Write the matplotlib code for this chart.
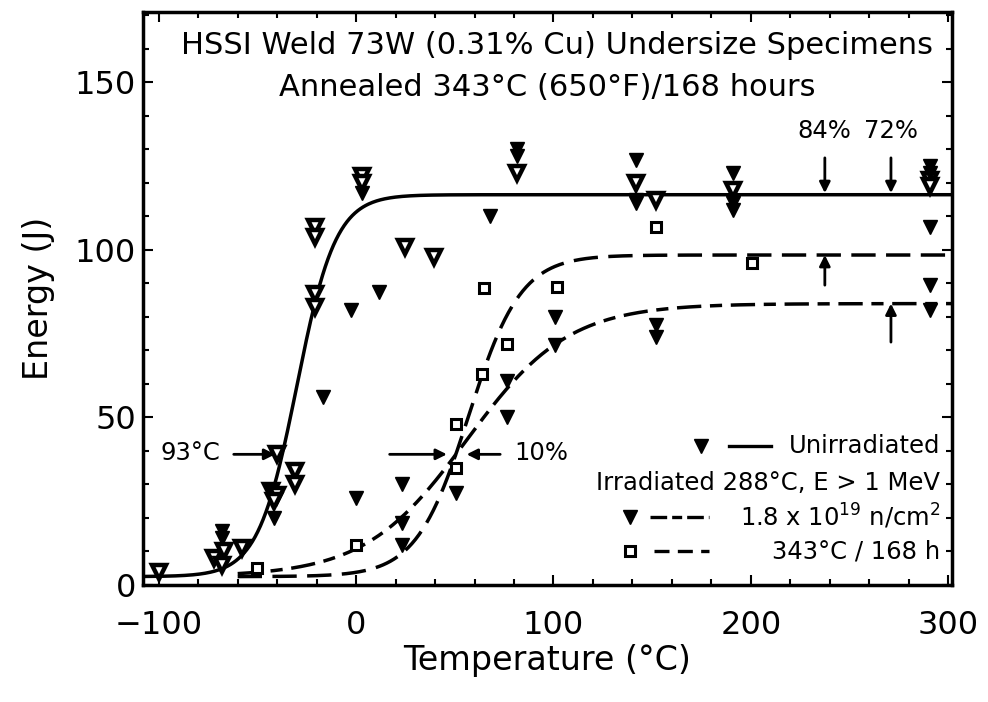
import numpy as np
import matplotlib
matplotlib.use("Agg")
import matplotlib.pyplot as plt

# ---------------- data ----------------
# Unirradiated (open triangles)
unirr_T = [-100, -72, -67, -68, -58, -43, -40, -41.5, -31, -31, -21, -21, -21, -21,
           3, 3, 25, 39.5, 81.5, 142, 152, 191, 291, 291, -40]
unirr_E = [4, 8, 10, 6, 11, 28, 27, 25, 34, 30, 107, 104, 87, 83,
           122, 120, 101, 98, 123, 120, 115, 118, 121, 119, 39]
# Irradiated 1.8e19 n/cm2 (filled triangles)
irr_T = [-68, -68, -41.5, -17, -2.5, 11.6, 0, 23, 23, 23, 50.6, 68, 76.5, 76.5,
         101, 101, 152, 152, 291, 291, 3, 81.5, 81.5, 142, 142, 142, 191, 191, 191,
         291, 291, 291]
irr_E = [16, 14, 20, 56, 82, 87.5, 26, 30, 12, 18.5, 27.5, 110, 61, 50,
         80, 71.6, 77.5, 74, 89.5, 82, 117, 130, 128, 127, 115, 114, 123, 114, 112,
         125, 123, 107]
# Irradiated + annealed 343C/168h (open squares)
ann_T = [-50, 0, 50.6, 50.6, 64, 76.5, 65, 102, 152, 200.5]
ann_E = [5, 12, 35, 48, 63, 72, 88.6, 89, 107, 96]

# tanh fit parameters: (lower shelf, upper shelf, T0, C)
fit_unirr = (2.5, 116.5, -30.0, 19.7)
fit_irr = (2.5, 84.0, 56.0, 51.5)
fit_ann = (2.5, 98.5, 57.0, 26.5)

def tanh_curve(T, p):
    lo, up, T0, C = p
    return lo + (up - lo) / 2.0 * (1 + np.tanh((T - T0) / C))

FS_TICK = 23
FS_LAB = 24
FS_TXT = 17.5
FS_TITLE = 22

fig = plt.figure(figsize=(9.88, 7.02), dpi=100)
ax = fig.add_axes([0.1447, 0.1667, 0.819, 0.816])
ax.set_xlim(-108, 302)
ax.set_ylim(0, 171)

# curves
T1 = np.linspace(-108, 302, 600)
ax.plot(T1, tanh_curve(T1, fit_unirr), color="black", lw=2.5, zorder=2)
T2 = np.linspace(-60, 302, 600)
ax.plot(T2, tanh_curve(T2, fit_irr), color="black", lw=2.5, dashes=(7, 2.5, 3.5, 2.5), zorder=2)
ax.plot(T2, tanh_curve(T2, fit_ann), color="black", lw=2.5, dashes=(7, 3), zorder=2)

# data
ax.plot(unirr_T, unirr_E, linestyle="none", marker="v", markersize=10,
        markerfacecolor="white", markeredgecolor="black", markeredgewidth=3.2, zorder=3)
ax.plot(irr_T, irr_E, linestyle="none", marker="v", markersize=10,
        color="black", zorder=3)
ax.plot(ann_T, ann_E, linestyle="none", marker="s", markersize=7,
        markerfacecolor="white", markeredgecolor="black", markeredgewidth=2.2, zorder=3)

# axes styling
for s in ax.spines.values():
    s.set_linewidth(2.5)
ax.set_xticks([-100, 0, 100, 200, 300])
ax.set_xticklabels(["\u2212100", "0", "100", "200", "300"])
ax.set_yticks([0, 50, 100, 150])
ax.set_xticks(np.arange(-100, 301, 20), minor=True)
ax.set_yticks(np.arange(0, 171, 10), minor=True)
ax.tick_params(which="both", direction="in", top=True, right=True, width=1.5)
ax.tick_params(which="major", length=7, labelsize=FS_TICK)
ax.tick_params(axis="x", which="major", pad=18)
ax.tick_params(axis="y", which="major", pad=5)
ax.tick_params(which="minor", length=4)
ax.set_xlabel("Temperature (\u00b0C)", fontsize=FS_LAB, labelpad=2)
ax.set_ylabel("Energy (J)", fontsize=FS_LAB, labelpad=14)

# title inside
ax.text(102, 161, "HSSI Weld 73W (0.31% Cu) Undersize Specimens", fontsize=FS_TITLE,
        ha="center", va="center")
ax.text(96.7, 148.5, "Annealed 343\u00b0C (650\u00b0F)/168 hours", fontsize=FS_TITLE,
        ha="center", va="center")

arrow_kw = dict(arrowstyle="-|>", lw=2, color="black", mutation_scale=16, shrinkA=0, shrinkB=0)
# 93C shift annotation
ax.text(-84, 39.5, "93\u00b0C", fontsize=FS_TXT, ha="center", va="center")
ax.annotate("", xy=(-41, 39), xytext=(-62, 39), arrowprops=arrow_kw)
# 10% annotation
ax.annotate("", xy=(46, 39), xytext=(17, 39), arrowprops=arrow_kw)
ax.annotate("", xy=(56, 39), xytext=(73, 39), arrowprops=arrow_kw)
ax.text(94, 39.5, "10%", fontsize=FS_TXT, ha="center", va="center")
# 84% and 72% recovery arrows
ax.text(237, 135.5, "84%", fontsize=FS_TXT, ha="center", va="center")
ax.text(271, 135.5, "72%", fontsize=FS_TXT, ha="center", va="center")
ax.annotate("", xy=(237.5, 117), xytext=(237.5, 127.5), arrowprops=arrow_kw)
ax.annotate("", xy=(237.5, 98.5), xytext=(237.5, 89.5), arrowprops=arrow_kw)
ax.annotate("", xy=(271, 117), xytext=(271, 127.5), arrowprops=arrow_kw)
ax.annotate("", xy=(271, 84), xytext=(271, 72.5), arrowprops=arrow_kw)

# legend (drawn manually)
ax.plot([175], [41.5], marker="v", markersize=10, linestyle="none", color="black")
ax.plot([189, 210], [41.5, 41.5], color="black", lw=2.4)
ax.text(296, 41.5, "Unirradiated", fontsize=FS_TXT, ha="right", va="center")
ax.text(296, 30.5, "Irradiated 288\u00b0C, E > 1 MeV", fontsize=FS_TXT, ha="right", va="center")
ax.plot([139], [20.3], marker="v", markersize=10, color="black", linestyle="none")
ax.plot([149, 179], [20.3, 20.3], color="black", lw=2.4, dashes=(5, 1.5, 3, 1.5))
ax.text(296, 20.3, r"1.8 x 10$^{19}$ n/cm$^{2}$", fontsize=FS_TXT, ha="right", va="center")
ax.plot([139], [10], marker="s", markersize=6.5, linestyle="none",
        markerfacecolor="white", markeredgecolor="black", markeredgewidth=2.2)
ax.plot([151, 179], [10, 10], color="black", lw=2.4, dashes=(4.5, 2.5))
ax.text(296, 10, "343\u00b0C / 168 h", fontsize=FS_TXT, ha="right", va="center")

fig.savefig("out.png", dpi=100)
